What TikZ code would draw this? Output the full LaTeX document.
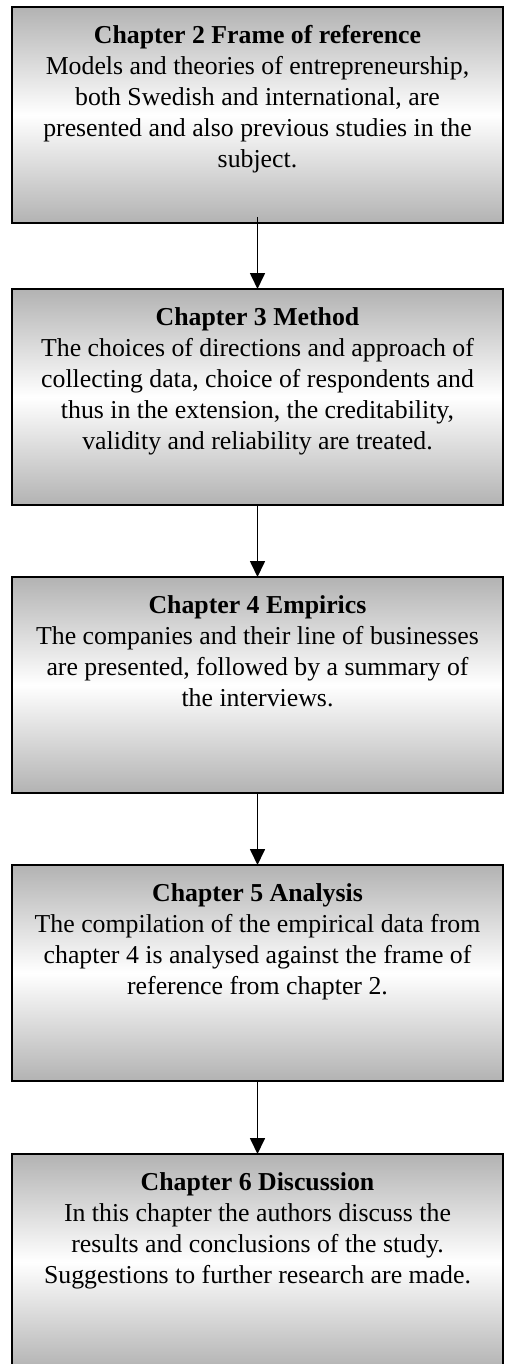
\documentclass[tikz,border=0pt]{standalone}
\usepackage{fontspec}
\setmainfont{Liberation Serif}
\usetikzlibrary{arrows.meta}
\begin{document}
\begin{tikzpicture}[x=0.5pt,y=-0.5pt,
  chbox/.style={draw=black,line width=1pt,minimum width=245.5pt,minimum height=108pt,
    inner sep=0pt,outer sep=0pt,anchor=north west,
    top color=black!30,bottom color=black!30,middle color=white},
  chtext/.style={anchor=north,inner sep=0pt,align=center,
    font=\fontsize{12.9}{15.5}\selectfont,yshift=-7.15pt},
  flow/.style={line width=0.85pt,-{Triangle[width=7.5pt,length=8pt]}}]
\useasboundingbox (0,0) rectangle (505,1364);
\node[chbox] (b1) at (12,7) {};
\node[chbox] (b2) at (12,289) {};
\node[chbox] (b3) at (12,577) {};
\node[chbox] (b4) at (12,865) {};
\node[chbox] (b5) at (12,1154) {};
\node[chtext] (t1) at (b1.north) {\strut\textbf{Chapter 2 Frame of reference}\\
  Models and theories of entrepreneurship,\\
  both Swedish and international, are\\
  presented and also previous studies in the\\
  subject.};
\node[chtext] (t2) at (b2.north) {\strut\textbf{Chapter 3 Method}\\
  The choices of directions and approach of\\
  collecting data, choice of respondents and\\
  thus in the extension, the creditability,\\
  validity and reliability are treated.};
\node[chtext] (t3) at (b3.north) {\strut\textbf{Chapter 4 Empirics}\\
  The companies and their line of businesses\\
  are presented, followed by a summary of\\
  the interviews.};
\node[chtext] (t4) at (b4.north) {\strut\textbf{Chapter 5 Analysis}\\
  The compilation of the empirical data from\\
  chapter 4 is analysed against the frame of\\
  reference from chapter 2.};
\node[chtext] (t5) at (b5.north) {\strut\textbf{Chapter 6 Discussion}\\
  In this chapter the authors discuss the\\
  results and conclusions of the study.\\
  Suggestions to further research are made.};
\draw[flow] ([yshift=3pt]b1.south) -- (b2.north);
\draw[flow] (b2.south) -- (b3.north);
\draw[flow] (b3.south) -- (b4.north);
\draw[flow] (b4.south) -- (b5.north);
\end{tikzpicture}
\end{document}
